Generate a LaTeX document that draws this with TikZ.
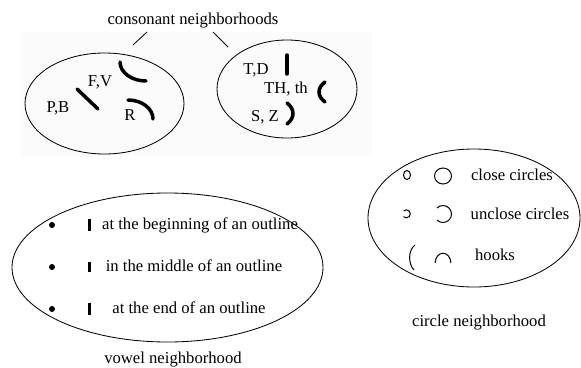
\documentclass[tikz,border=0pt]{standalone}
\usepackage{fontspec}
\setmainfont{Liberation Serif}
\usetikzlibrary{positioning}
\tikzset{
	hood/.style   ={draw=black, line width=0.5pt},
	stroke/.style ={line width=2.1pt, line cap=round},
	vbar/.style   ={line width=1.8pt},
	thinmark/.style={line width=0.6pt},
	lbl/.style    ={font=\normalsize, inner sep=1pt},
}
\begin{document}
\begin{tikzpicture}[x=0.6pt, y=-0.6pt]
	\useasboundingbox (0,0) rectangle (581,367);
	\fill[gray!3] (22,32) rectangle (372,156);
	% consonant neighborhoods
	\node[lbl] (consTitle) at (193,21) {consonant neighborhoods};
	\coordinate (leftTip) at (133,45);
	\coordinate (rightTip) at (228,47);
	\coordinate (leftFoot) at (147,32);
	\coordinate (rightFoot) at (213,32);
	\draw[hood] (leftFoot) -- (leftTip);
	\draw[hood] (rightFoot) -- (rightTip);
	\draw[hood] (104.5,103.5) ellipse [x radius=79.5, y radius=50.5];
	\node[lbl] (pb) at (58,108) {P,B};
	\node[lbl] (fv) at (100,82) {F,V};
	\node[lbl] (r) at (130,115) {R};
	\draw[stroke] (77,89) -- (98,109);
	\draw[stroke] (120,62) arc[start angle=180, end angle=90, x radius=26, y radius=19];
	\draw[stroke] (128,100) arc[start angle=-90, end angle=0, x radius=25, y radius=19];
	\draw[hood] (287,89) ellipse [x radius=70, y radius=49];
	\node[lbl] (td) at (256,70) {T,D};
	\node[lbl] (th) at (286,89) {TH, th};
	\node[lbl] (sz) at (265,117) {S, Z};
	\draw[stroke] (287,55) -- (287,74);
	\draw[stroke] (325,82) .. controls (317,88) and (317,96) .. (325,102);
	\draw[stroke] (287,103) .. controls (295,109) and (295,118) .. (287,124);
	% vowel neighborhood
	\draw[hood] (167.5,267.5) ellipse [x radius=155.5, y radius=74.5];
	\foreach \y/\h in {225/6, 267/5, 309/6} {
		\fill (52,\y) circle[radius=3];
		\draw[vbar] (89,\y-\h) -- (89,\y+\h);
	}
	\node[lbl] (vBegin) at (200,225) {at the beginning of an outline};
	\node[lbl] (vMiddle) at (194,266) {in the middle of an outline};
	\node[lbl] (vEnd) at (189,308) {at the end of an outline};
	\node[lbl] (vowelTitle) at (173,360) {vowel neighborhood};
	% circle neighborhood
	\draw[hood] (474,218) ellipse [x radius=106, y radius=69];
	\draw[thinmark] (407,175) ellipse [x radius=3.5, y radius=4.5];
	\draw[thinmark] (443,176) ellipse [x radius=8.5, y radius=8];
	\draw[thinmark] (403.5,211) arc[start angle=-135, end angle=135, radius=4];
	\draw[thinmark] (437,208) arc[start angle=-135, end angle=135, radius=8.5];
	\draw[thinmark] (415,245) .. controls (408,250) and (408,264) .. (414,270);
	\draw[thinmark] (435,263) .. controls (436,250) and (450,250) .. (451,263);
	\node[lbl] (close) at (512,175) {close circles};
	\node[lbl] (unclose) at (520,214) {unclose circles};
	\node[lbl] (hooks) at (495,255) {hooks};
	\node[lbl] (circleTitle) at (479,323) {circle neighborhood};
\end{tikzpicture}
\end{document}
